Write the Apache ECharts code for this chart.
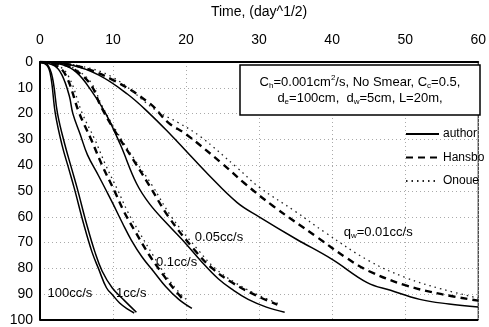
<!DOCTYPE html>
<html><head><meta charset="utf-8">
<script src="https://cdn.jsdelivr.net/npm/echarts@6/dist/echarts.min.js"></script>
<style>html,body{margin:0;padding:0;background:#fff}#c{width:489px;height:327px}</style>
</head><body><div id="c"></div>
<script>
// x: Time (day^1/2), y: degree of consolidation (%)
const xTicks = [0, 10, 20, 30, 40, 50, 60];
const yTicks = [0, 10, 20, 30, 40, 50, 60, 70, 80, 90, 100];

const q100_author = [[0,0],[1,1.5],[1.5,6],[2.1,20],[3,32],[4,42],[4.7,49],[6,63],[7.1,73.5],[8,80],[9.1,87.5],[10,90.5],[10.9,93.4],[12,95.8],[12.9,97.3]];
const q1_author   = [[0,0],[1,1],[1.7,6],[2.4,20],[3.4,32],[4.4,42],[5.1,49],[6.4,63],[7.5,73.5],[8.5,81],[9.9,87.6],[11.5,92.3],[13.2,97]];

const q01_author  = [[0,0],[2,1.5],[3,5],[4,13],[4.5,20],[5.5,28],[6.5,36],[8,44],[9.1,50],[10,55],[11.3,62.5],[12.5,69],[14,75.7],[15.5,81],[17.2,87],[19,92],[20.8,95.5]];
const q01_hansbo  = [[0,0],[2,1],[3.5,5],[5.4,20],[7,30],[8.5,40],[10.2,50],[11.5,58],[13.1,66],[15,75],[17,83],[18.5,88.5],[19.7,92.3]];
const q01_onoue   = [[0,0],[2,0.8],[3.8,5],[5.8,20],[7.5,30],[9,40],[10.7,50],[12,58],[13.6,66],[15.5,75],[17.3,83],[18.8,88.5],[20,92]];

const q005_author = [[0,0],[3,1],[5,4],[7,11],[9,20],[11,32],[13.2,47],[15,55],[17.5,63],[20,70.5],[22,77],[24.4,84],[26.5,88.5],[28.5,92],[31,95],[33.5,97]];
const q005_hansbo = [[0,0],[3,0.9],[5,3.5],[7,9],[8.3,17],[10.3,27],[12.8,38],[15,48],[17.6,60],[21.2,73],[23.6,80],[26.3,85.5],[29.6,90.5],[32.5,94]];
const q005_onoue  = [[0,0],[3,0.8],[5,3],[7,8],[8.5,17],[10.5,27],[13,38],[15.4,48],[18,60],[21.7,73],[24,80],[26.7,85.5],[30,90.5],[33,94]];

const q0001_author = [[0,0],[4,1],[8,5],[12,12.5],[15,20],[18,28.5],[20,34.5],[23,43.5],[27,54.5],[30,60],[35,68.5],[40,76.5],[44.8,85.5],[48,88.5],[52,92],[56,93.8],[60,95]];
const q0001_hansbo = [[0,0],[5,1.5],[10,7],[15,16],[17.6,23.6],[20,28],[25,39.5],[28,47],[32,56],[38,68],[42,76],[45,81],[50,86.5],[55,90],[60,92.5]];
const q0001_onoue  = [[0,0],[5,1.3],[10,6],[16,19],[19,23.6],[22,29],[27,41],[30,48.5],[35,58],[39,66],[45,77],[50,83.5],[55,88],[60,91.5]];

const curveLabels = [
  {text: '100cc/s', t: 4.1, u: 89.6},
  {text: '1cc/s', t: 12.5, u: 89.6},
  {text: '0.1cc/s', t: 18.7, u: 77.6},
  {text: '0.05cc/s', t: 24.5, u: 68},
  {text: '{n|q}{s|w}{n|=0.01cc/s}', t: 46.3, u: 66}
];

const styles = {
  author: {type: 'solid', width: 1.5, color: '#000'},
  Hansbo: {type: [7, 5], width: 2.4, color: '#000'},
  Onoue:  {type: [1.5, 4], width: 1.3, color: '#222'}
};
const curves = [
  ['author', q100_author], ['author', q1_author],
  ['Hansbo', q01_hansbo], ['Onoue', q01_onoue], ['author', q01_author],
  ['Hansbo', q005_hansbo], ['Onoue', q005_onoue], ['author', q005_author],
  ['Hansbo', q0001_hansbo], ['Onoue', q0001_onoue], ['author', q0001_author]
];

const FONT = 'Liberation Sans';
const chart = echarts.init(document.getElementById('c'), null, {renderer: 'canvas'});
const rich = {
  n: {fontSize: 13, lineHeight: 16, fontFamily: FONT, color: '#000'},
  s: {fontSize: 8, lineHeight: 8, verticalAlign: 'bottom', fontFamily: FONT, color: '#000'},
  p: {fontSize: 8, lineHeight: 8, verticalAlign: 'top', fontFamily: FONT, color: '#000'}
};

chart.setOption({
  animation: false,
  backgroundColor: '#fff',
  grid: {left: 40, right: 7, top: 61, bottom: 7, show: true, borderColor: '#000', borderWidth: 1},
  legend: {
    data: ['author', 'Hansbo', 'Onoue'],
    orient: 'vertical', left: 405, top: 128, padding: 0,
    itemWidth: 33, itemHeight: 12, itemGap: 11.5,
    itemStyle: {opacity: 0},
    textStyle: {fontFamily: FONT, fontSize: 12, color: '#000', padding: [0, 0, 0, -1]},
    selectedMode: false
  },
  xAxis: {
    type: 'value', position: 'top', min: 0, max: 60, interval: 10,
    name: 'Time, (day^1/2)', nameLocation: 'middle', nameGap: 43,
    nameTextStyle: {fontFamily: FONT, fontSize: 14, color: '#000'},
    axisLine: {show: true, lineStyle: {color: '#000', width: 2}},
    axisTick: {show: false},
    axisLabel: {fontFamily: FONT, fontSize: 14, color: '#000', margin: 15,
      formatter: v => xTicks.includes(v) ? String(v) : ''},
    splitLine: {show: true, lineStyle: {color: '#aaa', type: [1, 3], width: 1}}
  },
  yAxis: {
    type: 'value', inverse: true, min: 0, max: 100, interval: 10,
    axisLine: {show: true, onZero: false, lineStyle: {color: '#000', width: 2}},
    axisTick: {show: false},
    axisLabel: {fontFamily: FONT, fontSize: 14, color: '#000', margin: 7,
      formatter: v => yTicks.includes(v) ? String(v) : ''},
    splitLine: {show: true, lineStyle: {color: '#aaa', type: [1, 3], width: 1}}
  },
  series: curves.map(([name, data]) => ({
    name, type: 'line', data, symbol: 'none', smooth: 0.4,
    lineStyle: styles[name], itemStyle: {color: '#000'}, z: name === 'author' ? 3 : 2
  }))
});

const p0 = chart.convertToPixel({gridIndex: 0}, [0, 100]);
const p1 = chart.convertToPixel({gridIndex: 0}, [60, 100]);
const graphics = [
  {type: 'line', shape: {x1: p0[0], y1: p0[1], x2: p1[0], y2: p1[1]}, style: {stroke: '#000', lineWidth: 2}, z: 10},
  {type: 'rect', shape: {x: 240, y: 65, width: 240, height: 50}, style: {fill: '#fff', stroke: '#000', lineWidth: 1.5}, z: 20},
  {type: 'text', x: 360, y: 90, z: 21, style: {
    text: '{n|C}{s|h}{n|=0.001cm}{p|2}{n|/s, No Smear, C}{s|c}{n|=0.5,}\n{n|d}{s|e}{n|=100cm,  d}{s|w}{n|=5cm, L=20m,}',
    rich, align: 'center', verticalAlign: 'middle', textAlign: 'center', textVerticalAlign: 'middle'}}
];
curveLabels.forEach(l => {
  const p = chart.convertToPixel({gridIndex: 0}, [l.t, l.u]);
  graphics.push({type: 'text', x: p[0], y: p[1], z: 15, style: {
    text: l.text.startsWith('{') ? l.text : '{n|' + l.text + '}', rich,
    align: 'center', verticalAlign: 'middle', textAlign: 'center', textVerticalAlign: 'middle'}});
});
chart.setOption({graphic: graphics});
</script></body></html>
